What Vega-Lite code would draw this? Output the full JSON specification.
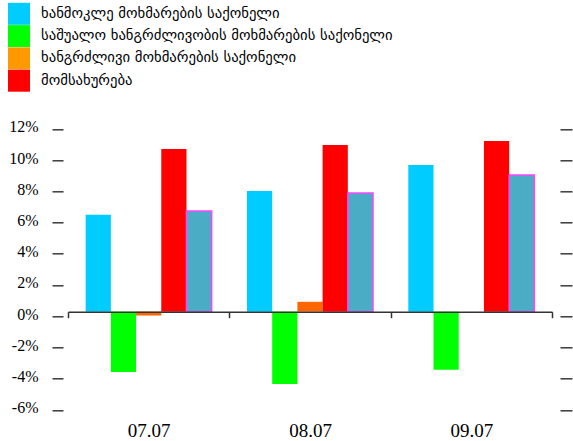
{
  "$schema": "https://vega.github.io/schema/vega-lite/v6.json",
  "width": 484,
  "height": 281,
  "autosize": {"type": "none"},
  "padding": {"left": 68, "top": 124.3, "right": 21, "bottom": 35.7},
  "background": "white",
  "config": {
    "view": {"stroke": null},
    "font": "Liberation Serif",
    "axis": {"labelFont": "Liberation Serif"},
    "axisY": {"labelFont": "Liberation Serif", "labelFontSize": 16}
  },
  "data": {
    "values": [
      {"period": "07.07", "category": "ხანმოკლე მოხმარების საქონელი", "value": 6.2},
      {"period": "07.07", "category": "საშუალო ხანგრძლივობის მოხმარების საქონელი", "value": -3.86},
      {"period": "07.07", "category": "ხანგრძლივი მოხმარების საქონელი", "value": -0.25},
      {"period": "07.07", "category": "მომსახურება", "value": 10.42},
      {"period": "07.07", "category": "სულ", "value": 6.45},
      {"period": "08.07", "category": "ხანმოკლე მოხმარების საქონელი", "value": 7.72},
      {"period": "08.07", "category": "საშუალო ხანგრძლივობის მოხმარების საქონელი", "value": -4.63},
      {"period": "08.07", "category": "ხანგრძლივი მოხმარების საქონელი", "value": 0.63},
      {"period": "08.07", "category": "მომსახურება", "value": 10.67},
      {"period": "08.07", "category": "სულ", "value": 7.6},
      {"period": "09.07", "category": "ხანმოკლე მოხმარების საქონელი", "value": 9.39},
      {"period": "09.07", "category": "საშუალო ხანგრძლივობის მოხმარების საქონელი", "value": -3.73},
      {"period": "09.07", "category": "ხანგრძლივი მოხმარების საქონელი", "value": 0},
      {"period": "09.07", "category": "მომსახურება", "value": 10.93},
      {"period": "09.07", "category": "სულ", "value": 8.75}
    ]
  },
  "layer": [
    {
      "mark": {"type": "bar", "strokeWidth": 1.5},
      "encoding": {
        "x": {
          "field": "period",
          "type": "nominal",
          "sort": null,
          "scale": {"paddingInner": 0, "paddingOuter": 0},
          "axis": {
            "orient": "bottom",
            "offset": -93.6,
            "title": null,
            "zindex": 1,
            "domainColor": "#333333",
            "domainWidth": 1.5,
            "tickBand": "extent",
            "tickSize": 6,
            "tickColor": "#333333",
            "tickWidth": 1.5,
            "labelAngle": 0,
            "labelPadding": 104,
            "labelFont": "Liberation Serif",
            "labelFontSize": 19,
            "labelColor": "#000000"
          }
        },
        "xOffset": {
          "field": "category",
          "type": "nominal",
          "scale": {
            "domain": ["ხანმოკლე მოხმარების საქონელი", "საშუალო ხანგრძლივობის მოხმარების საქონელი", "ხანგრძლივი მოხმარების საქონელი", "მომსახურება", "სულ"],
            "paddingInner": 0,
            "paddingOuter": 0.7
          }
        },
        "y": {
          "field": "value",
          "type": "quantitative",
          "scale": {"domain": [-6, 12], "nice": false},
          "axis": {
            "orient": "left",
            "values": [-6, -4, -2, 0, 2, 4, 6, 8, 10, 12],
            "labelExpr": "datum.value + '%'",
            "title": null,
            "domain": false,
            "grid": false,
            "offset": 5,
            "tickSize": 11,
            "tickWidth": 1.5,
            "tickColor": "#3a3a3a",
            "tickOffset": 4.5,
            "labelOffset": -2,
            "labelPadding": 14,
            "labelFont": "Liberation Serif",
            "labelFontSize": 16,
            "labelColor": "#000000"
          }
        },
        "fill": {
          "field": "category",
          "type": "nominal",
          "scale": {
            "domain": ["ხანმოკლე მოხმარების საქონელი", "საშუალო ხანგრძლივობის მოხმარების საქონელი", "ხანგრძლივი მოხმარების საქონელი", "მომსახურება", "სულ"],
            "range": ["#00ccff", "#00ff00", "#ff6600", "#ff0000", "#4bacc6"]
          },
          "legend": null
        },
        "stroke": {
          "condition": {"test": "datum.category === 'სულ'", "value": "#ff44ff"},
          "value": "transparent"
        }
      }
    },
    {
      "transform": [{"filter": "datum.category !== 'სულ'"}],
      "mark": {"type": "bar"},
      "encoding": {
        "x": {"field": "period", "type": "nominal", "sort": null},
        "xOffset": {"field": "category", "type": "nominal"},
        "y": {
          "field": "value",
          "type": "quantitative",
          "axis": {
            "orient": "right",
            "values": [-6, -4, -2, 0, 2, 4, 6, 8, 10, 12],
            "labels": false,
            "title": null,
            "domain": false,
            "grid": false,
            "offset": 8,
            "tickSize": 12,
            "tickWidth": 1.5,
            "tickColor": "#3a3a3a",
            "tickOffset": 4.5
          }
        },
        "y2": {"field": "value"},
        "color": {
          "field": "category",
          "type": "nominal",
          "scale": {
            "domain": ["ხანმოკლე მოხმარების საქონელი", "საშუალო ხანგრძლივობის მოხმარების საქონელი", "ხანგრძლივი მოხმარების საქონელი", "მომსახურება"],
            "range": ["#00ccff", "#00ff00", "#ff9900", "#ff0000"]
          },
          "legend": {
            "orient": "none",
            "legendX": -60,
            "legendY": -121.5,
            "title": null,
            "padding": 0,
            "symbolType": "square",
            "symbolSize": 484,
            "symbolStrokeWidth": 0,
            "symbolOpacity": 1,
            "rowPadding": 0.3,
            "labelOffset": 11,
            "labelFont": "DejaVu Sans",
            "labelFontSize": 14.7,
            "labelColor": "#000000",
            "labelLimit": 500
          }
        }
      }
    }
  ],
  "resolve": {"axis": {"y": "independent"}}
}
